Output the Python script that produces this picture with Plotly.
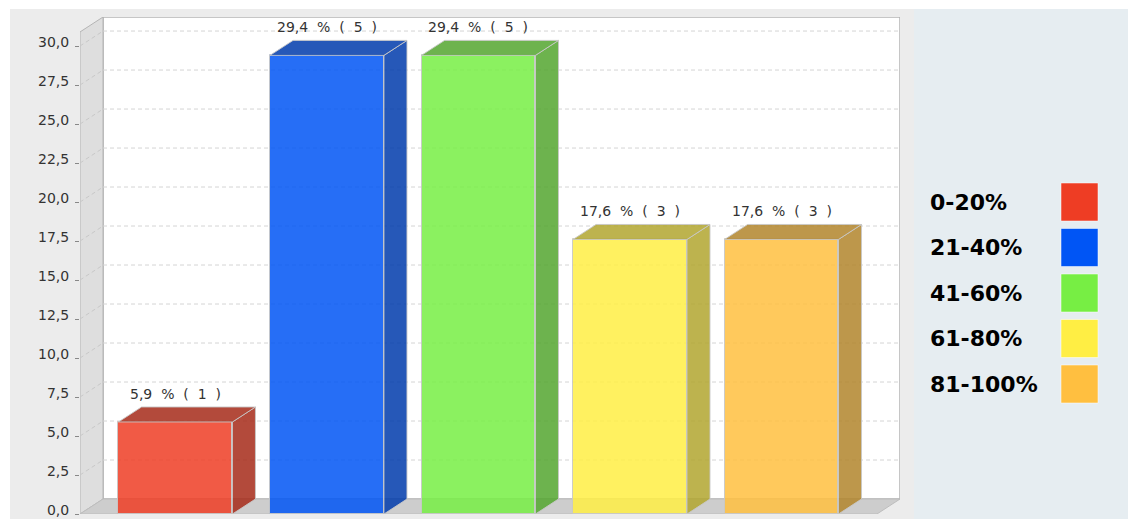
import plotly.graph_objects as go

# data
categories = ["0-20%", "21-40%", "41-60%", "61-80%", "81-100%"]
percents = [5.9, 29.4, 29.4, 17.6, 17.6]
counts = [1, 5, 5, 3, 3]
colors = ["#ee3d24", "#0055f5", "#77ee44", "#ffee44", "#ffbf40"]
y_ticks = [0, 2.5, 5, 7.5, 10, 12.5, 15, 17.5, 20, 22.5, 25, 27.5, 30]

# page geometry (pixels); the page body adds an 8px margin on every side
OFF = 8
W, H = 1136 - 2 * OFF, 527 - 2 * OFF
L, R, T, B = 80, 900, 17, 514  # plot area in page pixels

# axes ranges and fake 3d depth in data units
x_range = [-0.63, 4.782]
y_range = [0, 31.86]
dx = 0.152
dy = 0.96
bar_w = 0.752


def px(x):
    return (x - L) / (R - L)


def py(y):
    return (B - y) / (B - T)


def rgba(hexcol, a=1.0, k=1.0):
    r, g, b = (int(hexcol[i:i + 2], 16) for i in (1, 3, 5))
    return "rgba(%d,%d,%d,%.2f)" % (r * k, g * k, b * k, a)


def path(pts):
    return "M " + " L ".join("%f,%f" % p for p in pts) + " Z"


fig = go.Figure()

xs = list(range(len(categories)))

# front faces
fig.add_trace(go.Bar(
    x=xs, y=percents, width=bar_w,
    marker=dict(color=[rgba(c, 0.85) for c in colors],
                line=dict(color="rgba(200,200,200,0.9)", width=1)),
    hoverinfo="skip", showlegend=False))

# side and top faces
for x, v, c in zip(xs, percents, colors):
    xl, xr = x - bar_w / 2, x + bar_w / 2
    side = [(xr, 0), (xr + dx, dy), (xr + dx, v + dy), (xr, v)]
    top = [(xl, v), (xl + dx, v + dy), (xr + dx, v + dy), (xr, v)]
    for poly in (side, top):
        fig.add_trace(go.Scatter(
            x=[p[0] for p in poly] + [poly[0][0]],
            y=[p[1] for p in poly] + [poly[0][1]],
            mode="lines", fill="toself",
            fillcolor=rgba(c, 0.85, 0.7),
            line=dict(color="rgba(200,200,200,0.9)", width=1),
            hoverinfo="skip", showlegend=False))

shapes = []
# outer backgrounds
shapes.append(dict(type="rect", xref="paper", yref="paper", layer="below",
                   x0=px(10), x1=px(914), y0=py(540), y1=py(9),
                   fillcolor="#ececec", line=dict(width=0)))
shapes.append(dict(type="rect", xref="paper", yref="paper", layer="below",
                   x0=px(914), x1=px(1150), y0=py(540), y1=py(9),
                   fillcolor="#e6edf1", line=dict(width=0)))

x0, x1 = x_range
ytop = y_range[1]
# back wall
shapes.append(dict(type="rect", xref="x", yref="y", layer="below",
                   x0=x0 + dx, x1=x1, y0=dy, y1=ytop,
                   fillcolor="white", line=dict(color="#b4b4b4", width=1.5)))
# left wall
shapes.append(dict(type="path", xref="x", yref="y", layer="below",
                   path=path([(x0, 0), (x0, ytop - dy), (x0 + dx, ytop), (x0 + dx, dy)]),
                   fillcolor="#dedede", line=dict(color="#b4b4b4", width=1)))
# floor
shapes.append(dict(type="path", xref="x", yref="y", layer="below",
                   path=path([(x0, 0), (x1 - dx, 0), (x1, dy), (x0 + dx, dy)]),
                   fillcolor="#cdcdcd", line=dict(color="#bdbdbd", width=1)))
# gridlines
for t in y_ticks[1:]:
    shapes.append(dict(type="line", xref="x", yref="y", layer="below",
                       x0=x0 + dx, x1=x1, y0=t + dy, y1=t + dy,
                       line=dict(color="#d4d4d4", width=1, dash="4px,3px")))
    shapes.append(dict(type="line", xref="x", yref="y", layer="below",
                       x0=x0, x1=x0 + dx, y0=t, y1=t + dy,
                       line=dict(color="#c8c8c8", width=1, dash="4px,3px")))

annotations = []
# value labels
sp = "\u00a0\u00a0"
for x, v, n in zip(xs, percents, counts):
    txt = ("%.1f" % v).replace(".", ",") + sp + "%" + sp + "(" + sp + str(n) + sp + ")"
    annotations.append(dict(x=x, y=v + dy, xref="x", yref="y", text=txt,
                            showarrow=False, yanchor="bottom", yshift=3,
                            font=dict(size=14, color="#333333")))

# legend (text left, swatch right)
leg_y0, leg_step = 202, 45.5
for i, (name, c) in enumerate(zip(categories, colors)):
    yc = leg_y0 + i * leg_step
    annotations.append(dict(x=px(928), y=py(yc), xref="paper", yref="paper",
                            text="<b>%s</b>" % name, showarrow=False,
                            xanchor="left", yanchor="middle",
                            font=dict(size=22, color="black")))
    shapes.append(dict(type="rect", xref="paper", yref="paper",
                       x0=px(1061), x1=px(1098), y0=py(yc + 19), y1=py(yc - 19),
                       fillcolor=c, line=dict(color="rgba(255,255,255,0.5)", width=1)))

fig.update_layout(
    width=W, height=H,
    margin=dict(l=L - OFF, r=OFF + W - R, t=T - OFF, b=OFF + H - B, pad=0,
                autoexpand=False),
    paper_bgcolor="white", plot_bgcolor="rgba(0,0,0,0)",
    font=dict(family="DejaVu Sans", color="#333333"),
    separators=", ",
    shapes=shapes, annotations=annotations,
    showlegend=False, bargap=0,
)
fig.update_xaxes(range=x_range, showgrid=False, zeroline=False,
                 showticklabels=False, showline=False, fixedrange=True,
                 automargin=False)
fig.update_yaxes(range=y_range, tickvals=y_ticks, tickformat=".1f",
                 showgrid=False, zeroline=False, showline=False,
                 ticks="outside", ticklen=4, tickcolor="#888888",
                 ticklabelstandoff=3, ticklabelshift=-4,
                 ticklabeloverflow="allow", automargin=False,
                 tickfont=dict(size=14, color="#333333"))

fig.write_html("out.html")
